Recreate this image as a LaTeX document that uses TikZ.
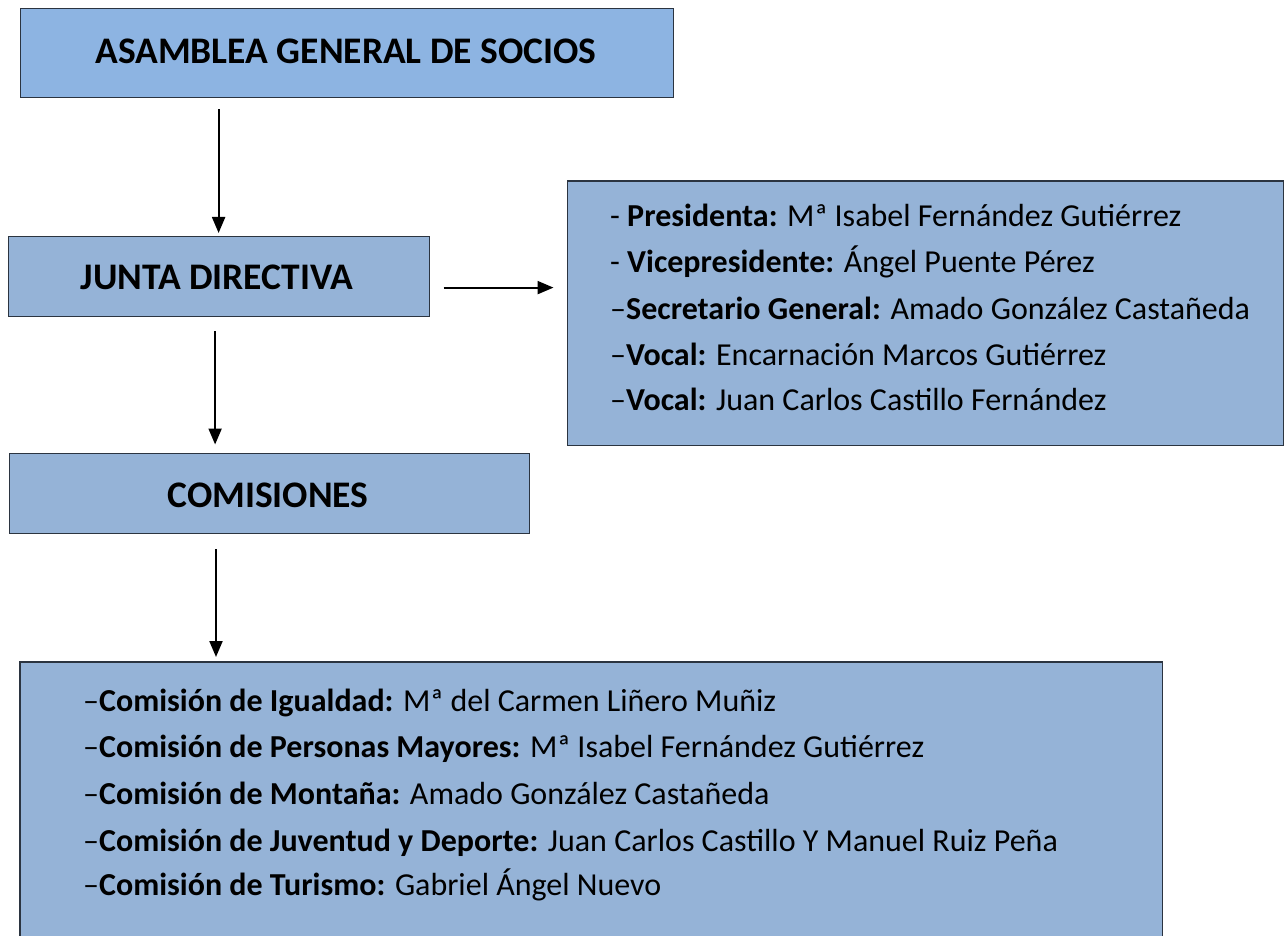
\documentclass[tikz,border=0pt]{standalone}
\usepackage{fontspec}
\setmainfont{Carlito}
\usetikzlibrary{arrows.meta}
\definecolor{boxA}{HTML}{8DB4E2}
\definecolor{boxB}{HTML}{95B3D7}
\definecolor{edge}{HTML}{2B3440}
\tikzset{
  orgbox/.style={draw=edge, line width=1.2pt, rectangle, anchor=north west, inner sep=0pt},
  title/.style={font=\fontsize{37.5}{44}\selectfont\bfseries, anchor=base},
  item/.style={font=\fontsize{32}{38}\selectfont, anchor=base west, inner sep=0pt},
  arr/.style={line width=2.2pt, -{Triangle[length=16pt,width=13pt]}},
}
\begin{document}
\begin{tikzpicture}[x=1pt,y=-1pt]
\useasboundingbox (0,0) rectangle (1288,936);
% boxes
\node[orgbox, fill=boxA, minimum width=653pt, minimum height=89pt] (asam) at (20,8) {};
\node[orgbox, fill=boxB, minimum width=421pt, minimum height=80pt] (junta) at (7.5,236) {};
\node[orgbox, fill=boxB, minimum width=716pt, minimum height=264pt] (lista) at (566.5,180.5) {};
\node[orgbox, fill=boxB, minimum width=520pt, minimum height=80pt] (comis) at (8.5,452.5) {};
\fill[boxB] (20,662) rectangle (1162.5,940);
\draw[edge, line width=1.2pt] (20,945) -- (20,662) -- (1162.5,662) -- (1162.5,945);
\coordinate (cbox) at (591,662);
% titles
\node[title] (t1) at (346,64) {ASAMBLEA GENERAL DE SOCIOS};
\node[title] (t2) at (217,290) {JUNTA DIRECTIVA};
\node[title] (t3) at (268,507) {COMISIONES};
% junta list
\node[item] (p1) at (610,227) {- \textbf{Presidenta:} Mª Isabel Fernández Gutiérrez};
\node[item] (p2) at (610,272.5) {- \textbf{Vicepresidente:} Ángel Puente Pérez};
\node[item] (p3) at (610,319) {–\textbf{Secretario General:} Amado González Castañeda};
\node[item] (p4) at (610,365) {–\textbf{Vocal:} Encarnación Marcos Gutiérrez};
\node[item] (p5) at (610,410.5) {–\textbf{Vocal:} Juan Carlos Castillo Fernández};
% comisiones list
\node[item] (c1) at (83,711) {–\textbf{Comisión de Igualdad:} Mª del Carmen Liñero Muñiz};
\node[item] (c2) at (83,757) {–\textbf{Comisión de Personas Mayores:} Mª Isabel Fernández Gutiérrez};
\node[item] (c3) at (83,804) {–\textbf{Comisión de Montaña:} Amado González Castañeda};
\node[item] (c4) at (83,851) {–\textbf{Comisión de Juventud y Deporte:} Juan Carlos Castillo Y Manuel Ruiz Peña};
\node[item] (c5) at (83,895.5) {–\textbf{Comisión de Turismo:} Gabriel Ángel Nuevo};
% arrows
\draw[arr] ([yshift=-11pt]asam.south -| junta.north) -- ([yshift=3pt]junta.north);
\draw[arr] ([xshift=14pt,yshift=-11pt]junta.east) -- ([xshift=-13pt,yshift=-11pt]junta.east -| lista.west);
\draw[arr] ([xshift=-3.5pt,yshift=-14pt]junta.south) -- ([xshift=-3.5pt,yshift=8pt]junta.south |- comis.north);
\draw[arr] ([yshift=-15.5pt]comis.south -| 216,0) -- ([yshift=5pt]cbox -| 216,0);
\end{tikzpicture}
\end{document}
